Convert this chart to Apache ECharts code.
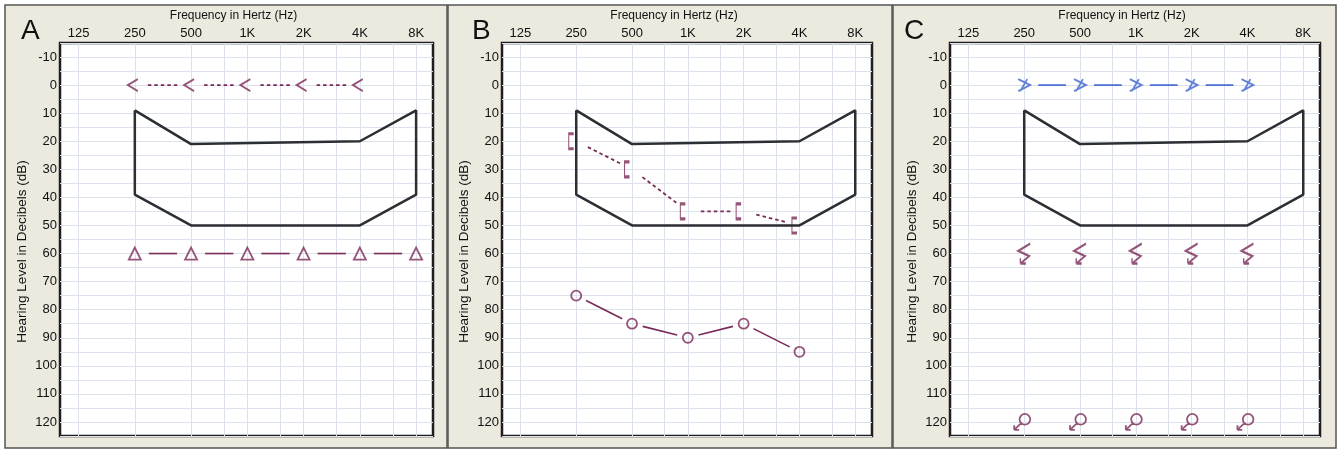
<!DOCTYPE html>
<html>
<head>
<meta charset="utf-8">
<title>Audiograms A B C</title>
<script src="https://cdn.jsdelivr.net/npm/echarts@6/dist/echarts.min.js"></script>
<style>
  html, body { margin: 0; padding: 0; background: #fff; }
  #chart { width: 1340px; height: 452px; }
</style>
</head>
<body>
<div id="chart"></div>
<script>
// frequency axis: labelled octaves and the grid lines (with half octaves)
const freqTicks = [125, 250, 500, 1000, 2000, 4000, 8000]
const freqLabels = ['125', '250', '500', '1K', '2K', '4K', '8K']
const freqGrid = [125, 250, 500, 750, 1000, 1500, 2000, 3000, 4000, 6000, 8000]
const dbLabels = [-10, 0, 10, 20, 30, 40, 50, 60, 70, 80, 90, 100, 110, 120]

// outlined region, same in every panel
const regionFreq = [250, 500, 4000, 8000, 8000, 4000, 500, 250, 250]
const regionDb = [9, 21, 20, 9, 39, 50, 50, 39, 9]

// panel A
const aLessFreq = [250, 500, 1000, 2000, 4000]
const aLessDb = [0, 0, 0, 0, 0]
const aTriFreq = [250, 500, 1000, 2000, 4000, 8000]
const aTriDb = [60, 60, 60, 60, 60, 60]

// panel B
const bFreq = [250, 500, 1000, 2000, 4000]
const bBracketDb = [20, 30, 45, 45, 50]
const bCircleDb = [75, 85, 90, 85, 95]

// panel C
const cFreq = [250, 500, 1000, 2000, 4000]
const cCrossDb = [0, 0, 0, 0, 0]
const cLessNrDb = [60, 60, 60, 60, 60]
const cCircleNrDb = [120, 120, 120, 120, 120]

const MAROON = '#7a2a58'
const BLUE = '#3d64cc'
const OUTLINE = '#2b2e33'
const GRIDLINE = '#dde1ec'
const FONT = '"Liberation Sans", Arial, sans-serif'

const oct = f => Math.log2(f / 125)
const pts = (freqs, dbs) => freqs.map((f, k) => [oct(f), dbs[k]])

// symbol shapes
const SYM_LESS = 'path://M10,0 L0,6 L10,12'
const SYM_TRI = 'path://M6,0 L12,12 L0,12 Z'
const SYM_BRACKET = 'path://M5,0 L0,0 L0,15 L5,15'
const SYM_CROSS = 'path://M0,0 L12,6 L0,12 M9,0 L2,12'
const SYM_LESS_NR = 'path://M11,0 L0,7 L10,12 L2,19 M2,19 L2,14 M2,19 L7,19'
const SYM_CIRCLE_NR = 'path://M16,5 A5,5 0 1 1 6,5 A5,5 0 1 1 16,5 Z M7.5,8.5 L1,15 M1,15 L1,10.5 M1,15 L5.5,15'

const panels = [
  { left: 60, width: 373, letter: 'A', letterLeft: 21, frameX: 5, frameW: 442 },
  { left: 502, width: 370, letter: 'B', letterLeft: 472, frameX: 448, frameW: 444 },
  { left: 950, width: 370, letter: 'C', letterLeft: 904, frameX: 893, frameW: 443 }
]

// line pieces between neighbouring points, stopped short of the markers
function connector(idx, freqs, dbs, gap, dash, color) {
  const data = []
  for (let i = 0; i < freqs.length - 1; i++) {
    data.push([oct(freqs[i]), dbs[i], oct(freqs[i + 1]), dbs[i + 1]])
  }
  return {
    type: 'custom',
    xAxisIndex: idx,
    yAxisIndex: idx,
    silent: true,
    data,
    encode: { x: [0, 2], y: [1, 3] },
    renderItem(params, api) {
      const a = api.coord([api.value(0), api.value(1)])
      const b = api.coord([api.value(2), api.value(3)])
      const dx = b[0] - a[0]
      const dy = b[1] - a[1]
      const len = Math.hypot(dx, dy)
      const ux = dx / len
      const uy = dy / len
      return {
        type: 'line',
        shape: { x1: a[0] + ux * gap, y1: a[1] + uy * gap, x2: b[0] - ux * gap, y2: b[1] - uy * gap },
        style: { stroke: color, lineWidth: dash ? 1.8 : 1.6, lineDash: dash }
      }
    }
  }
}

function marks(idx, freqs, dbs, symbol, size, color, offset) {
  return {
    type: 'scatter',
    xAxisIndex: idx,
    yAxisIndex: idx,
    silent: true,
    data: pts(freqs, dbs),
    symbol,
    symbolSize: size,
    symbolOffset: offset || [0, 0],
    itemStyle: { color: 'rgba(0,0,0,0)', borderColor: color, borderWidth: 1.8 }
  }
}

function region(idx) {
  return {
    type: 'line',
    xAxisIndex: idx,
    yAxisIndex: idx,
    silent: true,
    data: pts(regionFreq, regionDb),
    symbol: 'none',
    lineStyle: { color: OUTLINE, width: 2.5 }
  }
}

const chart = echarts.init(document.getElementById('chart'))

chart.setOption({
  animation: false,
  graphic: panels.map(p => ({
    type: 'rect',
    z: -10,
    silent: true,
    shape: { x: p.frameX, y: 5, width: p.frameW, height: 443 },
    style: { fill: '#ece9df', stroke: '#555', lineWidth: 1.5 }
  })),
  title: panels.map(p => ({
    text: p.letter,
    left: p.letterLeft,
    top: 17,
    padding: 0,
    textStyle: { fontSize: 28, fontWeight: 'normal', fontFamily: FONT, color: '#111' }
  })),
  grid: panels.map(p => ({
    left: p.left,
    top: 43,
    width: p.width,
    height: 393,
    show: true,
    backgroundColor: '#fff',
    borderColor: '#1e1e1e',
    borderWidth: 2.5
  })),
  xAxis: panels.map((p, i) => ({
    type: 'value',
    gridIndex: i,
    position: 'top',
    min: -0.33,
    max: 6.3,
    name: 'Frequency in Hertz (Hz)',
    nameLocation: 'middle',
    nameGap: 21,
    nameTextStyle: { fontSize: 12, color: '#111', fontFamily: FONT, padding: [0, 26, 0, 0] },
    axisLine: { show: false },
    axisTick: { show: false, customValues: freqGrid.map(oct) },
    axisLabel: {
      customValues: freqTicks.map(oct),
      formatter: v => freqLabels[Math.round(v)],
      fontSize: 13,
      fontFamily: FONT,
      color: '#111',
      margin: 3
    },
    splitLine: { show: true, lineStyle: { color: GRIDLINE, width: 1 } }
  })),
  yAxis: panels.map((p, i) => ({
    type: 'value',
    gridIndex: i,
    inverse: true,
    min: -15,
    max: 125,
    interval: 5,
    name: 'Hearing Level in Decibels (dB)',
    nameLocation: 'middle',
    nameGap: 31,
    nameTextStyle: { fontSize: 13.5, color: '#111', fontFamily: FONT, padding: [0, 24, 0, 0] },
    axisLine: { show: false },
    axisTick: { show: false },
    axisLabel: {
      customValues: dbLabels,
      fontSize: 13,
      fontFamily: FONT,
      color: '#111',
      margin: 3
    },
    splitLine: { show: true, lineStyle: { color: GRIDLINE, width: 1 } }
  })),
  series: [
    // A
    region(0),
    connector(0, aLessFreq, aLessDb, 13, [3.5, 3], MAROON),
    marks(0, aLessFreq, aLessDb, SYM_LESS, [10, 12], MAROON, [-2, 0]),
    connector(0, aTriFreq, aTriDb, 14, null, MAROON),
    marks(0, aTriFreq, aTriDb, SYM_TRI, [12, 12], MAROON),
    // B
    region(1),
    connector(1, bFreq, bBracketDb, 13, [3.5, 3], MAROON),
    marks(1, bFreq, bBracketDb, SYM_BRACKET, [5, 15], MAROON, [-5, 0]),
    connector(1, bFreq, bCircleDb, 11, null, MAROON),
    marks(1, bFreq, bCircleDb, 'circle', 10, MAROON),
    // C
    region(2),
    connector(2, cFreq, cCrossDb, 14, null, BLUE),
    marks(2, cFreq, cCrossDb, SYM_CROSS, [12, 12], BLUE),
    marks(2, cFreq, cLessNrDb, SYM_LESS_NR, [12, 20], MAROON),
    marks(2, cFreq, cCircleNrDb, SYM_CIRCLE_NR, [16, 16], MAROON, [-2, 0])
  ]
})
</script>
</body>
</html>
